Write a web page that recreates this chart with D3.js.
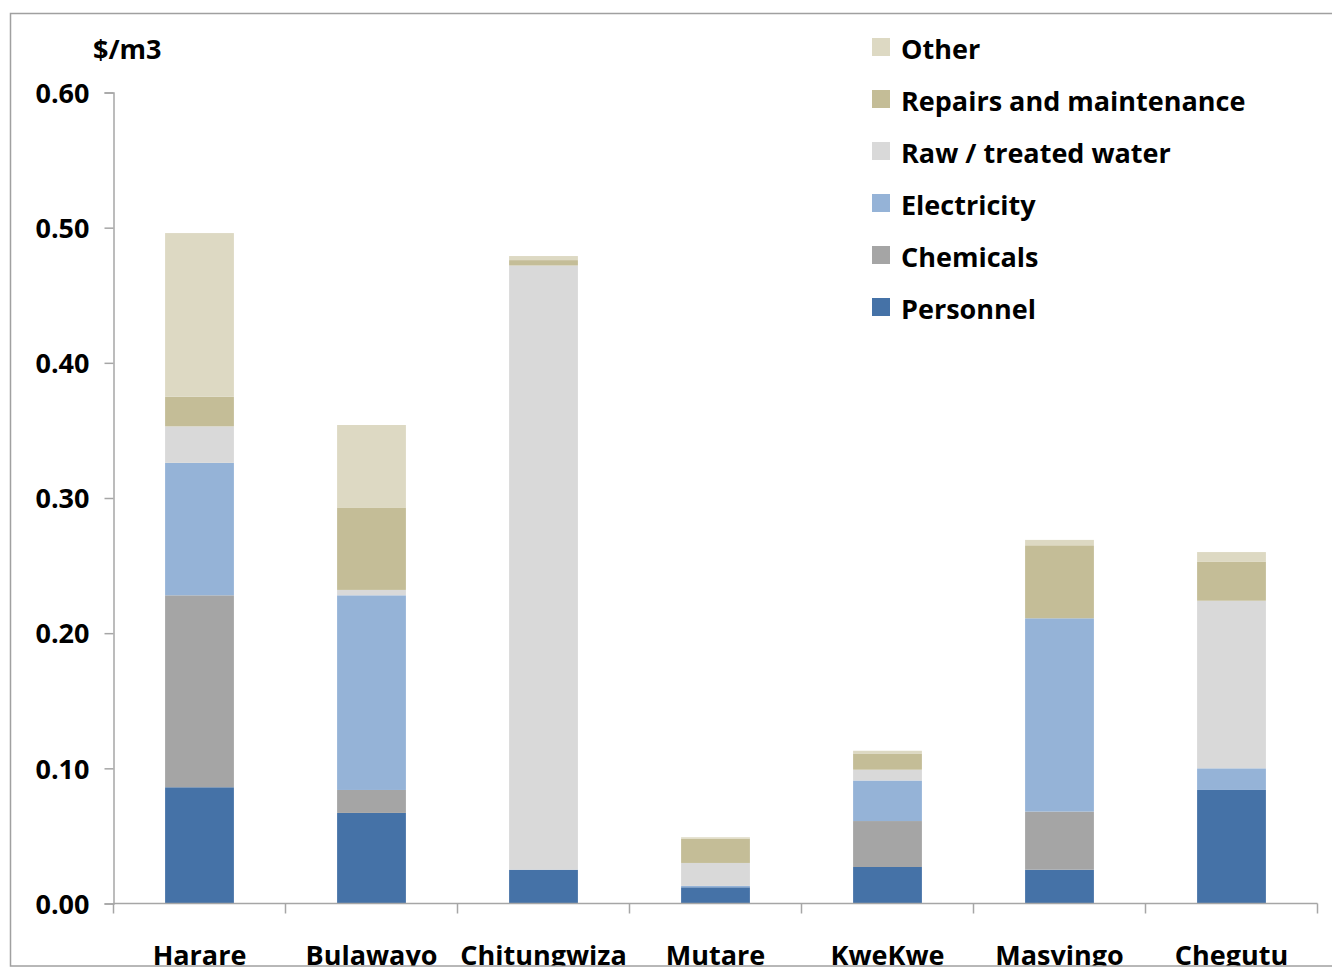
<!DOCTYPE html>
<html>
<head>
<meta charset="utf-8">
<script src="https://cdn.jsdelivr.net/npm/d3@7/dist/d3.min.js"></script>
<style>
  html, body { margin: 0; padding: 0; background: #fff; }
  svg { display: block; }
  text { font-family: "Open Sans", "Noto Sans", sans-serif; font-weight: 700; fill: #000; }
</style>
</head>
<body>
<svg id="chart" width="1332" height="968"></svg>
<script>
// Cost breakdown per cubic metre by city
const categories = ["Harare", "Bulawayo", "Chitungwiza", "Mutare", "KweKwe", "Masvingo", "Chegutu"];
const personnel   = [0.086, 0.067, 0.025, 0.012, 0.027, 0.025, 0.084];
const chemicals   = [0.142, 0.017, 0.000, 0.000, 0.034, 0.043, 0.000];
const electricity = [0.098, 0.144, 0.000, 0.001, 0.030, 0.143, 0.016];
const rawWater    = [0.027, 0.004, 0.447, 0.017, 0.008, 0.000, 0.124];
const repairs     = [0.022, 0.061, 0.004, 0.018, 0.012, 0.054, 0.029];
const other       = [0.121, 0.061, 0.003, 0.001, 0.002, 0.004, 0.007];
const seriesNames = ["Personnel", "Chemicals", "Electricity", "Raw / treated water", "Repairs and maintenance", "Other"];
const seriesColors = ["#4572A7", "#A5A5A5", "#95B3D7", "#D9D9D9", "#C4BD97", "#DDD9C3"];
const yTicks = [0, 0.1, 0.2, 0.3, 0.4, 0.5, 0.6];
const yUnit = "$/m3";

const seriesValues = [personnel, chemicals, electricity, rawWater, repairs, other];
const rows = categories.map((c, i) => {
  const r = { city: c };
  seriesNames.forEach((s, k) => { r[s] = seriesValues[k][i]; });
  return r;
});

const svg = d3.select("#chart");
const axisColor = "#a6a6a6";

// outer frame
svg.append("rect")
  .attr("x", 10.5).attr("y", 13.5)
  .attr("width", 1400).attr("height", 952.5)
  .attr("fill", "none").attr("stroke", "#a0a0a0").attr("stroke-width", 1.5);

const x = d3.scaleBand().domain(categories).range([113.5, 1317.5])
  .paddingInner(0.6).paddingOuter(0.3);
const y = d3.scaleLinear().domain([0, 0.6]).range([903.5, 92.5]);

const layers = d3.stack().keys(seriesNames)(rows);

// stacked bars
svg.append("g").selectAll("g")
  .data(layers)
  .join("g")
  .attr("fill", (d, i) => seriesColors[i])
  .selectAll("rect")
  .data(d => d)
  .join("rect")
  .attr("x", d => x(d.data.city))
  .attr("width", x.bandwidth())
  .attr("y", d => y(d[1]))
  .attr("height", d => Math.max(0, y(d[0]) - y(d[1])));

// y axis
const yAxis = svg.append("g")
  .attr("transform", "translate(113.5,0)")
  .call(d3.axisLeft(y).tickValues(yTicks).tickFormat(d3.format(".2f")).tickSize(9).tickPadding(15));
yAxis.select(".domain").attr("stroke", axisColor).attr("stroke-width", 1.5);
yAxis.selectAll(".tick line").attr("stroke", axisColor).attr("stroke-width", 1.5);
yAxis.selectAll(".tick text")
  .attr("font-size", 27).attr("font-family", null).attr("dy", "0.36em");

// x axis: baseline with ticks at the category boundaries
const step = x.step();
const boundaries = d3.range(categories.length + 1).map(i => x.range()[0] + i * step);
const xg = svg.append("g");
xg.append("line")
  .attr("x1", x.range()[0]).attr("x2", x.range()[1])
  .attr("y1", y(0)).attr("y2", y(0))
  .attr("stroke", axisColor).attr("stroke-width", 1.5);
xg.selectAll("line.tk")
  .data(boundaries)
  .join("line").attr("class", "tk")
  .attr("x1", d => d).attr("x2", d => d)
  .attr("y1", y(0)).attr("y2", y(0) + 10)
  .attr("stroke", axisColor).attr("stroke-width", 1.5);

// category labels, clipped by the frame
svg.append("clipPath").attr("id", "frameClip")
  .append("rect").attr("x", 0).attr("y", 0).attr("width", 1332).attr("height", 965.5);
xg.append("g").attr("clip-path", "url(#frameClip)")
  .selectAll("text")
  .data(categories)
  .join("text")
  .attr("x", d => x(d) + x.bandwidth() / 2)
  .attr("y", 965)
  .attr("text-anchor", "middle")
  .attr("font-size", 27)
  .text(d => d);

// unit label
svg.append("text").attr("x", 93).attr("y", 59).attr("font-size", 27).text(yUnit);

// legend, top series first
const legendOrder = seriesNames.map((s, i) => i).reverse();
const lg = svg.append("g").selectAll("g")
  .data(legendOrder)
  .join("g")
  .attr("transform", (d, j) => `translate(872,${59 + j * 52})`);
lg.append("rect").attr("x", 0).attr("y", -21).attr("width", 18).attr("height", 18)
  .attr("fill", d => seriesColors[d]);
lg.append("text").attr("x", 29).attr("y", 0).attr("font-size", 27)
  .text(d => seriesNames[d]);
</script>
</body>
</html>
